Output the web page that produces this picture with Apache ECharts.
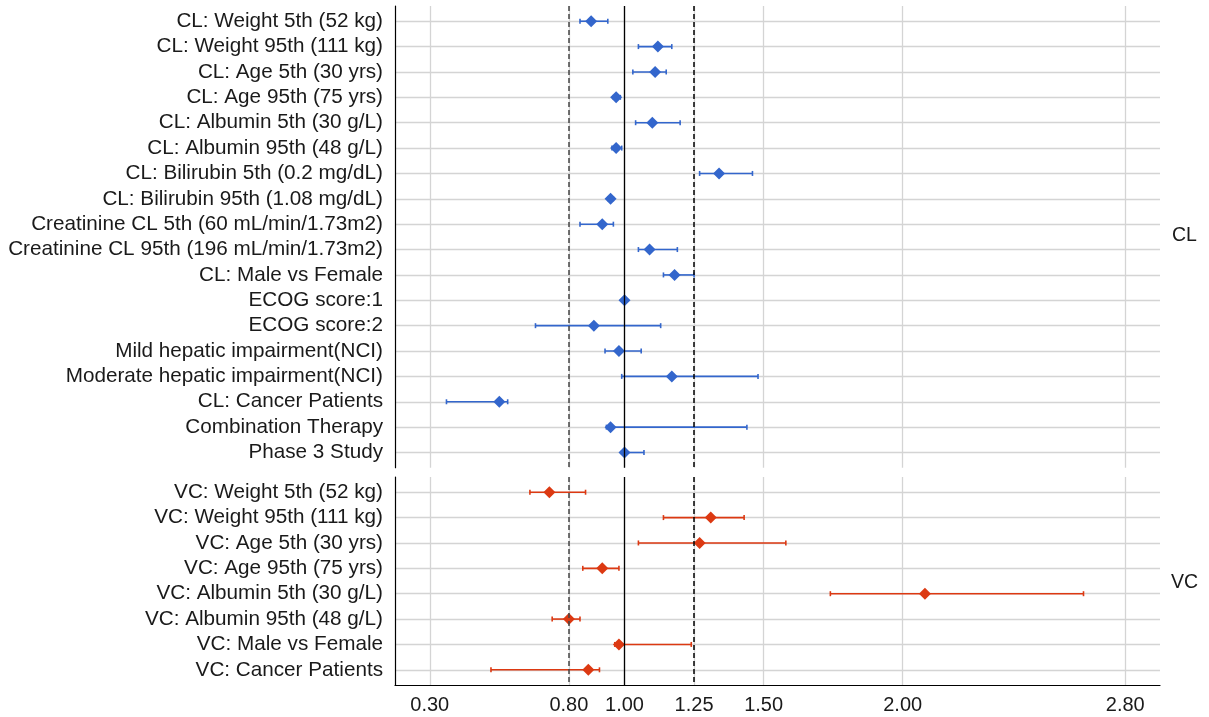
<!DOCTYPE html>
<html>
<head>
<meta charset="utf-8">
<title>Covariate effects on CL and VC</title>
<script src="https://cdn.jsdelivr.net/npm/echarts@6/dist/echarts.min.js"></script>
<style>
  html, body { margin: 0; padding: 0; background: #ffffff; }
  #chart { width: 1209px; height: 717px; }
</style>
</head>
<body>
<div id="chart"></div>
<script>
// Clearance (CL) covariate effects: ratio to reference, with 90% interval
const clLabels = [
  'CL: Weight 5th (52 kg)',
  'CL: Weight 95th (111 kg)',
  'CL: Age 5th (30 yrs)',
  'CL: Age 95th (75 yrs)',
  'CL: Albumin 5th (30 g/L)',
  'CL: Albumin 95th (48 g/L)',
  'CL: Bilirubin 5th (0.2 mg/dL)',
  'CL: Bilirubin 95th (1.08 mg/dL)',
  'Creatinine CL 5th (60 mL/min/1.73m2)',
  'Creatinine CL 95th (196 mL/min/1.73m2)',
  'CL: Male vs Female',
  'ECOG score:1',
  'ECOG score:2',
  'Mild hepatic impairment(NCI)',
  'Moderate hepatic impairment(NCI)',
  'CL: Cancer Patients',
  'Combination Therapy',
  'Phase 3 Study'
];
const clEst = [0.88, 1.12, 1.11, 0.97, 1.10, 0.97, 1.34, 0.95, 0.92, 1.09, 1.18, 1.00, 0.89, 0.98, 1.17, 0.55, 0.95, 1.00];
const clLow = [0.84, 1.05, 1.03, 0.96, 1.04, 0.955, 1.27, 0.94, 0.84, 1.05, 1.14, 1.00, 0.68, 0.93, 0.99, 0.36, 0.935, 0.99];
const clHigh = [0.94, 1.17, 1.15, 0.985, 1.20, 0.99, 1.46, 0.96, 0.96, 1.19, 1.25, 1.00, 1.13, 1.06, 1.48, 0.58, 1.44, 1.07];

// Central volume (VC) covariate effects
const vcLabels = [
  'VC: Weight 5th (52 kg)',
  'VC: Weight 95th (111 kg)',
  'VC: Age 5th (30 yrs)',
  'VC: Age 95th (75 yrs)',
  'VC: Albumin 5th (30 g/L)',
  'VC: Albumin 95th (48 g/L)',
  'VC: Male vs Female',
  'VC: Cancer Patients'
];
const vcEst = [0.73, 1.31, 1.27, 0.92, 2.08, 0.80, 0.98, 0.87];
const vcLow = [0.66, 1.14, 1.05, 0.85, 1.74, 0.74, 0.965, 0.52];
const vcHigh = [0.86, 1.43, 1.58, 0.98, 2.65, 0.84, 1.24, 0.91];

// x-axis breaks and reference lines
const xBreaks = [0.30, 0.80, 1.00, 1.25, 1.50, 2.00, 2.80];
const refLines = [0.80, 1.00, 1.25];

const FONT = '"Liberation Sans", Arial, sans-serif';
const BLUE = '#3366cc';
const RED = '#dc3912';
const GRID_GRAY = '#d4d4d4';

const xMin = 0.3 - 0.05 * (2.8 - 0.3);
const xMax = 2.8 + 0.05 * (2.8 - 0.3);

function rows(n) { return Array.from({ length: n }, (_, i) => i + 1); }

function xAxisFor(gridIndex, showLabels) {
  return {
    type: 'value', gridIndex, min: xMin, max: xMax,
    axisLine: { show: showLabels, onZero: false, lineStyle: { color: '#000', width: 1.2 } },
    axisTick: { show: false, customValues: xBreaks },
    axisLabel: {
      show: showLabels, customValues: xBreaks, margin: 10,
      color: '#1a1a1a', fontSize: 20, fontFamily: FONT,
      formatter: v => v.toFixed(2)
    },
    splitLine: { show: true, lineStyle: { color: GRID_GRAY, width: 1.3 } }
  };
}

function yAxisFor(gridIndex, labels) {
  const vals = rows(labels.length);
  return {
    type: 'value', gridIndex, inverse: true,
    min: 0.4, max: labels.length + 0.6,
    axisLine: { show: true, onZero: false, lineStyle: { color: '#000', width: 1.2 } },
    axisTick: { show: false, customValues: vals },
    axisLabel: {
      customValues: vals, margin: 12,
      color: '#1a1a1a', fontSize: 20.7, fontFamily: FONT,
      formatter: v => labels[Math.round(v) - 1]
    },
    splitLine: { show: true, lineStyle: { color: GRID_GRAY, width: 1.3 } }
  };
}

function errorBarRenderer(color) {
  return function (params, api) {
    const y = api.value(2);
    const a = api.coord([api.value(0), y]);
    const b = api.coord([api.value(1), y]);
    const cap = 2.5;
    const style = { stroke: color, lineWidth: 1.6 };
    return {
      type: 'group',
      children: [
        { type: 'line', shape: { x1: a[0], y1: a[1], x2: b[0], y2: b[1] }, style },
        { type: 'line', shape: { x1: a[0], y1: a[1] - cap, x2: a[0], y2: a[1] + cap }, style },
        { type: 'line', shape: { x1: b[0], y1: b[1] - cap, x2: b[0], y2: b[1] + cap }, style }
      ]
    };
  };
}

function panelSeries(idx, est, low, high, color) {
  return [
    {
      type: 'custom', xAxisIndex: idx, yAxisIndex: idx, z: 3,
      renderItem: errorBarRenderer(color),
      encode: { x: [0, 1], y: 2 },
      data: low.map((lo, i) => [lo, high[i], i + 1])
    },
    {
      type: 'scatter', xAxisIndex: idx, yAxisIndex: idx, z: 4,
      symbol: 'diamond', symbolSize: 12,
      itemStyle: { color: color, opacity: 1 },
      data: est.map((v, i) => [v, i + 1])
    },
    {
      type: 'line', xAxisIndex: idx, yAxisIndex: idx, z: 6, data: [],
      markLine: {
        silent: true, symbol: 'none', animation: false,
        label: { show: false },
        data: refLines.map(v => ({
          xAxis: v,
          lineStyle: v === 1
            ? { color: '#000', width: 1.3, type: 'solid' }
            : { color: v < 1 ? '#444' : '#000', width: 1.5, type: [5, 3] }
        }))
      }
    }
  ];
}

const topH = 18.2 * 25.37;
const botH = 8.2 * 25.37;
const topTop = 6;
const botTop = 477;

const chart = echarts.init(document.getElementById('chart'), null, { renderer: 'canvas' });
chart.setOption({
  animation: false,
  backgroundColor: '#ffffff',
  grid: [
    { left: 395, right: 49, top: topTop, height: topH },
    { left: 395, right: 49, top: botTop, height: botH }
  ],
  xAxis: [xAxisFor(0, false), xAxisFor(1, true)],
  yAxis: [yAxisFor(0, clLabels), yAxisFor(1, vcLabels)],
  series: [
    ...panelSeries(0, clEst, clLow, clHigh, BLUE),
    ...panelSeries(1, vcEst, vcLow, vcHigh, RED)
  ],
  graphic: [
    {
      type: 'text', left: 1172, top: topTop + topH / 2 - 11,
      style: { text: 'CL', fill: '#1a1a1a', font: '19.5px ' + FONT }
    },
    {
      type: 'text', left: 1171, top: botTop + botH / 2 - 8,
      style: { text: 'VC', fill: '#1a1a1a', font: '19.5px ' + FONT }
    }
  ]
});
</script>
</body>
</html>
